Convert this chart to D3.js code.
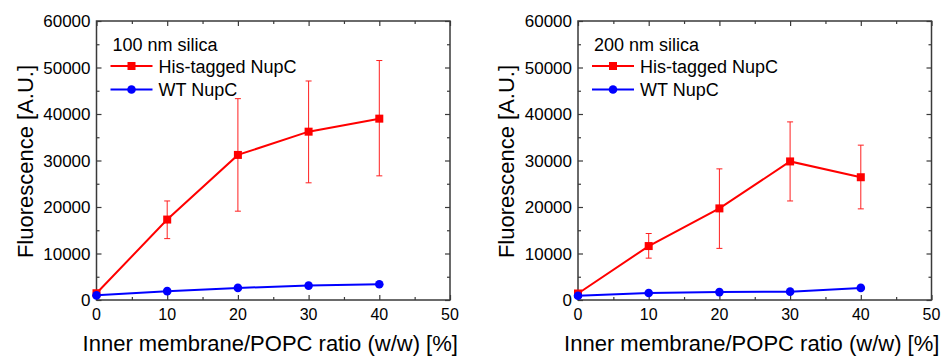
<!DOCTYPE html>
<html>
<head>
<meta charset="utf-8">
<script src="https://cdn.jsdelivr.net/npm/d3@7"></script>
<style>
  body { margin: 0; background: #fff; }
  svg { display: block; font-family: "Liberation Sans", Arial, sans-serif; }
</style>
</head>
<body>
<div id="chart"></div>
<script>
const ratios = [0, 10, 20, 30, 40];

// 100 nm silica
const his100 = [1450, 17300, 31200, 36200, 39000];
const his100Low = [1300, 13200, 19100, 25200, 26700];
const his100High = [1600, 21300, 43300, 47100, 51500];
const wt100 = [1000, 1900, 2600, 3100, 3400];

// 200 nm silica
const his200 = [1400, 11600, 19700, 29800, 26400];
const his200Low = [1250, 9000, 11100, 21300, 19600];
const his200High = [1550, 14300, 28200, 38300, 33300];
const wt200 = [900, 1500, 1700, 1800, 2600];

const xTicks = [0, 10, 20, 30, 40, 50];
const yTicks = [0, 10000, 20000, 30000, 40000, 50000, 60000];

const panels = [
  { title: '100 nm silica', left: 96.5, his: his100, lo: his100Low, hi: his100High, wt: wt100 },
  { title: '200 nm silica', left: 578, his: his200, lo: his200Low, hi: his200High, wt: wt200 }
];

const width = 944, height = 356;
const plotW = 353.5, plotTop = 21, plotBottom = 300;

const svg = d3.select('#chart').append('svg')
  .attr('width', width)
  .attr('height', height);

const axisColor = '#3a3a3a';

panels.forEach(p => {
  const x = d3.scaleLinear().domain([0, 50]).range([p.left, p.left + plotW]);
  const y = d3.scaleLinear().domain([0, 60000]).range([plotBottom, plotTop]);
  const g = svg.append('g');

  // frame with inward ticks on all sides
  const minorX = d3.range(5, 50, 10);
  const minorY = d3.range(5000, 60000, 10000);
  const mkAxis = (axis, scale, vals, size, tr) => {
    const a = g.append('g').attr('transform', tr)
      .call(axis(scale).tickValues(vals).tickSize(size).tickFormat('').tickSizeOuter(0));
    a.select('.domain').remove();
    a.selectAll('line').attr('stroke', axisColor).attr('stroke-width', 1.2);
  };
  mkAxis(d3.axisBottom, x, xTicks, -5, `translate(0,${plotBottom})`);
  mkAxis(d3.axisBottom, x, minorX, -3, `translate(0,${plotBottom})`);
  mkAxis(d3.axisTop, x, xTicks, -5, `translate(0,${plotTop})`);
  mkAxis(d3.axisTop, x, minorX, -3, `translate(0,${plotTop})`);
  mkAxis(d3.axisLeft, y, yTicks, -5, `translate(${p.left},0)`);
  mkAxis(d3.axisLeft, y, minorY, -3, `translate(${p.left},0)`);
  mkAxis(d3.axisRight, y, yTicks, -5, `translate(${p.left + plotW},0)`);
  mkAxis(d3.axisRight, y, minorY, -3, `translate(${p.left + plotW},0)`);

  g.append('rect')
    .attr('x', p.left).attr('y', plotTop)
    .attr('width', plotW).attr('height', plotBottom - plotTop)
    .attr('fill', 'none').attr('stroke', axisColor).attr('stroke-width', 1.5);

  // tick labels
  g.selectAll('.xl').data(xTicks).join('text')
    .attr('x', d => x(d)).attr('y', plotBottom + 20)
    .attr('text-anchor', 'middle').attr('font-size', 16)
    .text(d => d);
  g.selectAll('.yl').data(yTicks).join('text')
    .attr('x', p.left - 6).attr('y', d => y(d) + 6)
    .attr('text-anchor', 'end').attr('font-size', 17)
    .text(d => d);

  // axis titles
  g.append('text')
    .attr('x', p.left + plotW / 2 - 3).attr('y', 351)
    .attr('text-anchor', 'middle').attr('font-size', 22)
    .text('Inner membrane/POPC ratio (w/w) [%]');
  g.append('text')
    .attr('transform', `translate(${p.left - 64},${(plotTop + plotBottom) / 2 + 1}) rotate(-90)`)
    .attr('text-anchor', 'middle').attr('font-size', 22)
    .text('Fluorescence [A.U.]');

  // error bars
  const eb = g.append('g').attr('stroke', '#ff2020').attr('stroke-width', 1);
  ratios.forEach((r, i) => {
    eb.append('line').attr('x1', x(r)).attr('x2', x(r)).attr('y1', y(p.lo[i])).attr('y2', y(p.hi[i]));
    [p.lo[i], p.hi[i]].forEach(v => {
      eb.append('line').attr('x1', x(r) - 3).attr('x2', x(r) + 3).attr('y1', y(v)).attr('y2', y(v));
    });
  });

  const line = d3.line().x((d, i) => x(ratios[i])).y(d => y(d));

  // His-tagged series
  g.append('path').datum(p.his).attr('d', line)
    .attr('fill', 'none').attr('stroke', '#ff0000').attr('stroke-width', 2);
  g.selectAll('.his').data(p.his).join('rect')
    .attr('x', (d, i) => x(ratios[i]) - 4).attr('y', d => y(d) - 4)
    .attr('width', 8).attr('height', 8)
    .attr('fill', '#ff0000');

  // WT series
  g.append('path').datum(p.wt).attr('d', line)
    .attr('fill', 'none').attr('stroke', '#0000ff').attr('stroke-width', 2);
  g.selectAll('.wt').data(p.wt).join('circle')
    .attr('cx', (d, i) => x(ratios[i])).attr('cy', d => y(d)).attr('r', 4.3)
    .attr('fill', '#0000ff');

  // legend
  const lx = p.left + 14;
  g.append('text').attr('x', lx + 2).attr('y', 51).attr('font-size', 18).text(p.title);
  const items = [
    { name: 'His-tagged NupC', color: '#ff0000', shape: 'square', yy: 66 },
    { name: 'WT NupC', color: '#0000ff', shape: 'circle', yy: 89.5 }
  ];
  items.forEach(it => {
    g.append('line').attr('x1', lx).attr('x2', lx + 42).attr('y1', it.yy).attr('y2', it.yy)
      .attr('stroke', it.color).attr('stroke-width', 2);
    if (it.shape === 'square') {
      g.append('rect').attr('x', lx + 17).attr('y', it.yy - 4).attr('width', 8).attr('height', 8).attr('fill', it.color);
    } else {
      g.append('circle').attr('cx', lx + 21).attr('cy', it.yy).attr('r', 4.3).attr('fill', it.color);
    }
    g.append('text').attr('x', lx + 48).attr('y', it.yy + 6.5).attr('font-size', 18).text(it.name);
  });
});
</script>
</body>
</html>
